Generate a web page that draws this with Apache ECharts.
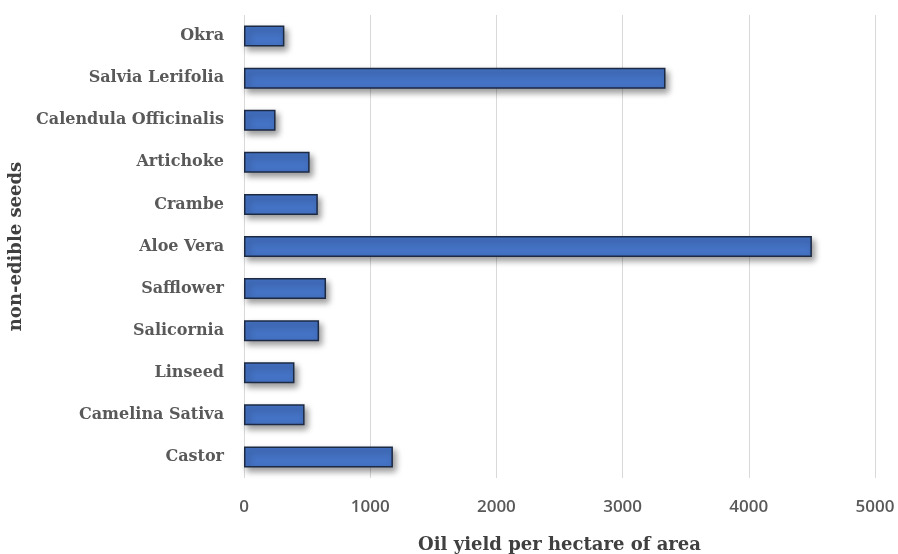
<!DOCTYPE html>
<html>
<head>
<meta charset="utf-8">
<script src="https://cdn.jsdelivr.net/npm/echarts@6/dist/echarts.min.js"></script>
<style>html,body{margin:0;padding:0;background:#fff;}#c{width:898px;height:554px;}</style>
</head>
<body>
<div id="c"></div>
<script>
const categories = ['Castor', 'Camelina Sativa', 'Linseed', 'Salicornia', 'Safflower', 'Aloe Vera', 'Crambe', 'Artichoke', 'Calendula Officinalis', 'Salvia Lerifolia', 'Okra'];
const oilYield = [1180, 480, 400, 595, 650, 4500, 585, 520, 250, 3340, 320];
const xTicks = [0, 1000, 2000, 3000, 4000, 5000];
const xAxisTitle = 'Oil yield per hectare of area';
const yAxisTitle = 'non-edible seeds';

const chart = echarts.init(document.getElementById('c'), null, {renderer: 'canvas'});
chart.setOption({
  animation: false,
  backgroundColor: '#ffffff',
  grid: {left: 244, right: 23, top: 15, bottom: 76, containLabel: false, outerBoundsMode: 'none'},
  xAxis: {
    type: 'value',
    min: xTicks[0],
    max: xTicks[xTicks.length - 1],
    interval: 1000,
    axisLine: {show: false},
    axisTick: {show: false},
    splitLine: {show: true, lineStyle: {color: '#d9d9d9', width: 1}},
    axisLabel: {color: '#595959', fontFamily: 'Open Sans', fontSize: 17, fontWeight: 600, margin: 21,
      formatter: function (v) { return String(v); }},
    name: xAxisTitle,
    nameLocation: 'middle',
    nameGap: 58,
    nameTextStyle: {color: '#404040', fontFamily: 'DejaVu Serif', fontWeight: 'bold', fontSize: 18}
  },
  yAxis: {
    type: 'category',
    data: categories,
    axisLine: {show: false},
    axisTick: {show: false},
    splitLine: {show: false},
    axisLabel: {color: '#595959', fontFamily: 'DejaVu Serif', fontWeight: 'bold', fontSize: 16, margin: 20},
    name: yAxisTitle,
    nameLocation: 'middle',
    nameGap: 216,
    nameRotate: 90,
    nameTextStyle: {color: '#404040', fontFamily: 'DejaVu Serif', fontWeight: 'bold', fontSize: 18}
  },
  series: [{
    type: 'bar',
    data: oilYield,
    barWidth: 21,
    itemStyle: {
      color: '#4472C4',
      borderColor: '#1c2a44',
      borderWidth: 1.5,
      shadowColor: 'rgba(0,0,0,0.4)',
      shadowBlur: 6,
      shadowOffsetX: 3,
      shadowOffsetY: 4
    }
  }]
});
</script>
</body>
</html>
